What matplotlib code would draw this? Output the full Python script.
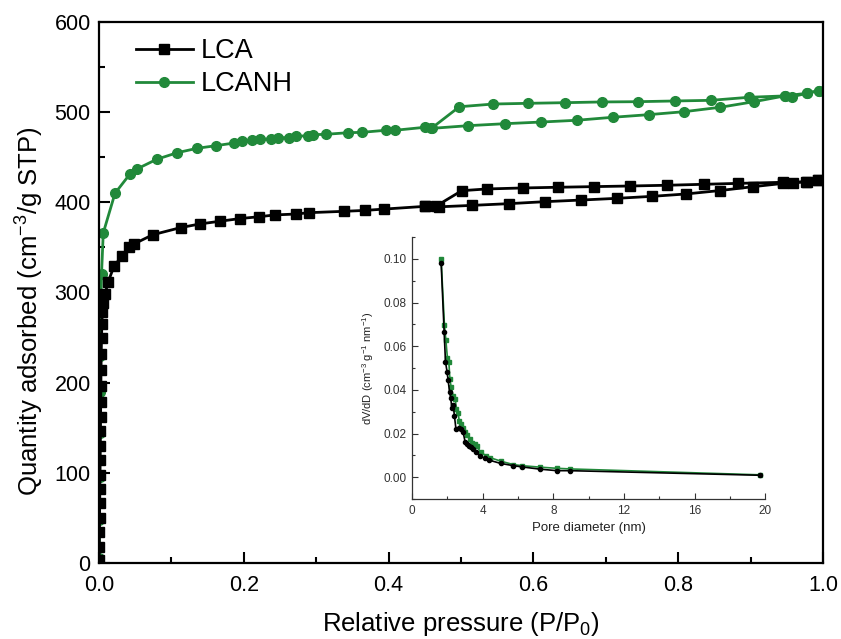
import matplotlib
matplotlib.use('Agg')
import matplotlib.pyplot as plt
from matplotlib.ticker import MultipleLocator

plt.rcParams['font.family'] = ['Liberation Sans', 'DejaVu Sans']
plt.rcParams['mathtext.fontset'] = 'custom'
plt.rcParams['mathtext.rm'] = 'Liberation Sans'

GREEN = '#21893a'

# N2 isotherms, LCA
lca_ads_p = [0.0002, 0.0004, 0.0006, 0.0008, 0.0010, 0.0012, 0.0014, 0.0016, 0.0018, 0.0020,
             0.0022, 0.0024, 0.0026, 0.0028, 0.0031, 0.0035, 0.0040, 0.0046, 0.0055, 0.0083,
             0.0128, 0.0207, 0.0322, 0.0419, 0.0488, 0.0742, 0.113, 0.1395, 0.167, 0.195,
             0.221, 0.243, 0.272, 0.290, 0.338, 0.367, 0.394, 0.450, 0.470, 0.5155,
             0.566, 0.616, 0.6655, 0.715, 0.7635, 0.810, 0.857, 0.903, 0.945, 0.978, 0.9935]
lca_ads_q = [3, 18, 34, 50, 66, 82, 98, 114, 130, 146,
             162, 178, 196, 214, 232, 250, 265, 278, 288, 298,
             312, 329, 341, 350, 354, 364, 372, 376, 379, 382,
             384, 386, 387, 388.5, 390, 391, 392.5, 395.5, 395, 396.6,
             398.5, 400.7, 402.5, 404.4, 406.6, 409.2, 413, 417.3, 421, 423, 424.5]
lca_des_p = [0.9935, 0.977, 0.959, 0.945, 0.883, 0.836, 0.784, 0.734, 0.684, 0.634,
             0.585, 0.5355, 0.501, 0.466, 0.450]
lca_des_q = [424.5, 423, 421.8, 422.2, 421, 420, 418.9, 418.1, 417.4, 416.7,
             415.9, 414.8, 412.9, 396, 395.5]

# N2 isotherms, LCANH
nh_ads_p = [0.0003, 0.0006, 0.0009, 0.0012, 0.0015, 0.0018, 0.0022, 0.0028, 0.0035, 0.0059,
            0.0221, 0.0428, 0.0525, 0.0797, 0.108, 0.1355, 0.1615, 0.187, 0.197, 0.212,
            0.222, 0.237, 0.247, 0.263, 0.272, 0.289, 0.295, 0.313, 0.344, 0.363,
            0.396, 0.409, 0.450, 0.4595, 0.510, 0.561, 0.610, 0.660, 0.7095, 0.759,
            0.808, 0.858, 0.9047, 0.947, 0.978, 0.995]
nh_ads_q = [5, 48, 95, 144, 190, 230, 265, 295, 320, 366,
            410, 431.4, 437, 447.7, 455, 459.9, 462.8, 465.8, 467.6, 468.8,
            470.2, 470.2, 471.7, 471.7, 473.2, 473.9, 475, 475.4, 477.2, 477.6,
            479.9, 479.9, 483.2, 482, 485, 487.2, 489, 491, 494.3, 497.2,
            500.5, 505.4, 511.6, 518, 521, 524]
nh_des_p = [0.995, 0.978, 0.957, 0.947, 0.898, 0.845, 0.796, 0.744, 0.694, 0.6436,
            0.593, 0.5445, 0.4977, 0.459]
nh_des_q = [524, 521, 517, 518, 516.5, 513.1, 512.4, 511.6, 511.3, 510.5,
            509.8, 509, 506, 482]

# pore size distribution (inset)
lca_d = [1.645, 1.815, 1.89, 1.985, 2.04, 2.12, 2.19, 2.25, 2.325, 2.40,
         2.48, 2.63, 2.78, 2.89, 3.0, 3.12, 3.23, 3.35, 3.46, 3.61,
         3.84, 4.14, 4.37, 5.03, 5.73, 6.24, 7.24, 8.2, 8.94, 19.7]
lca_dv = [0.0983, 0.0665, 0.053, 0.048, 0.0444, 0.0392, 0.0361, 0.0317, 0.0332, 0.0279,
          0.0223, 0.0224, 0.0223, 0.0206, 0.0163, 0.0154, 0.0145, 0.0139, 0.013, 0.0117,
          0.0096, 0.0087, 0.0078, 0.0063, 0.0053, 0.0047, 0.0037, 0.003, 0.003, 0.0009]
nh_d = [1.645, 1.83, 1.91, 2.0, 2.08, 2.14, 2.21, 2.33, 2.44, 2.51,
        2.61, 2.67, 2.78, 2.89, 3.0, 3.12, 3.27, 3.42, 3.54, 3.65,
        3.89, 4.18, 4.4, 5.05, 5.73, 6.22, 7.26, 8.18, 8.94, 19.7]
nh_dv = [0.0998, 0.0698, 0.063, 0.0546, 0.053, 0.045, 0.0413, 0.0373, 0.036, 0.0312,
         0.0294, 0.0256, 0.0245, 0.0226, 0.0206, 0.0195, 0.0175, 0.0157, 0.0151, 0.0142,
         0.0114, 0.0099, 0.009, 0.0073, 0.0058, 0.0053, 0.0046, 0.0041, 0.0038, 0.0011]

fig = plt.figure(figsize=(8.41, 6.39), dpi=100)
ax = fig.add_axes([0.1177, 0.119, 0.861, 0.8466])

ax.plot(nh_ads_p, nh_ads_q, color=GREEN, marker='o', ms=7, lw=2)
ax.plot(nh_des_p, nh_des_q, color=GREEN, marker='o', ms=7, lw=2)
ax.plot(lca_ads_p, lca_ads_q, color='black', marker='s', ms=6.5, lw=2)
ax.plot(lca_des_p, lca_des_q, color='black', marker='s', ms=6.5, lw=2)

h1, = ax.plot([], [], color='black', marker='s', ms=6.5, lw=2, label='LCA')
h2, = ax.plot([], [], color=GREEN, marker='o', ms=7, lw=2, label='LCANH')
ax.legend(handles=[h1, h2], loc='upper left', frameon=False, fontsize=19.5,
          handlelength=2.1, handletextpad=0.3, labelspacing=0.25,
          borderaxespad=0, bbox_to_anchor=(0.036, 0.99))

ax.set_xlim(0, 1.0)
ax.set_ylim(0, 600)
ax.xaxis.set_major_locator(MultipleLocator(0.2))
ax.xaxis.set_minor_locator(MultipleLocator(0.1))
ax.yaxis.set_major_locator(MultipleLocator(100))
ax.yaxis.set_minor_locator(MultipleLocator(50))
ax.tick_params(which='both', direction='in', labelsize=15.5, width=1.5, pad=6)
ax.tick_params(axis='x', which='both', pad=9)
ax.tick_params(which='major', length=8)
ax.tick_params(which='minor', length=4.5)
for s in ax.spines.values():
    s.set_linewidth(1.6)

ax.set_xlabel('Relative pressure (P/P$_0$)', fontsize=18.5, labelpad=10)
ax.set_ylabel('Quantity adsorbed (cm$^{-3}$/g STP)', fontsize=18.5)
ax.yaxis.set_label_coords(-0.075, 0.465)

# inset
ins = fig.add_axes([0.490, 0.219, 0.420, 0.410])
ins.plot(nh_d, nh_dv, color=GREEN, marker='s', ms=3, lw=1.2)
ins.plot(lca_d, lca_dv, color='black', marker='o', ms=3, lw=1.2)
ins.set_xlim(0, 20)
ins.set_ylim(-0.01, 0.11)
ins.xaxis.set_major_locator(MultipleLocator(4))
ins.xaxis.set_minor_locator(MultipleLocator(2))
ins.yaxis.set_major_locator(MultipleLocator(0.02))
ins.yaxis.set_minor_locator(MultipleLocator(0.01))
ins.yaxis.set_major_formatter(plt.FuncFormatter(lambda v, p: f'{v:.2f}'))
ins.spines['top'].set_visible(False)
ins.spines['right'].set_visible(False)
for s in ins.spines.values():
    s.set_color('#333333')
    s.set_linewidth(0.9)
ins.tick_params(which='both', direction='in', labelsize=8.5, colors='#333333', width=0.8, pad=4)
ins.tick_params(which='major', length=4)
ins.tick_params(which='minor', length=2.5)
ins.set_xlabel('Pore diameter (nm)', fontsize=9.5, color='#222222', labelpad=4)
ins.set_ylabel('dV/dD (cm$^{-3}$ g$^{-1}$ nm$^{-1}$)', fontsize=8, color='#222222', labelpad=5)

fig.savefig('out.png', dpi=100)
